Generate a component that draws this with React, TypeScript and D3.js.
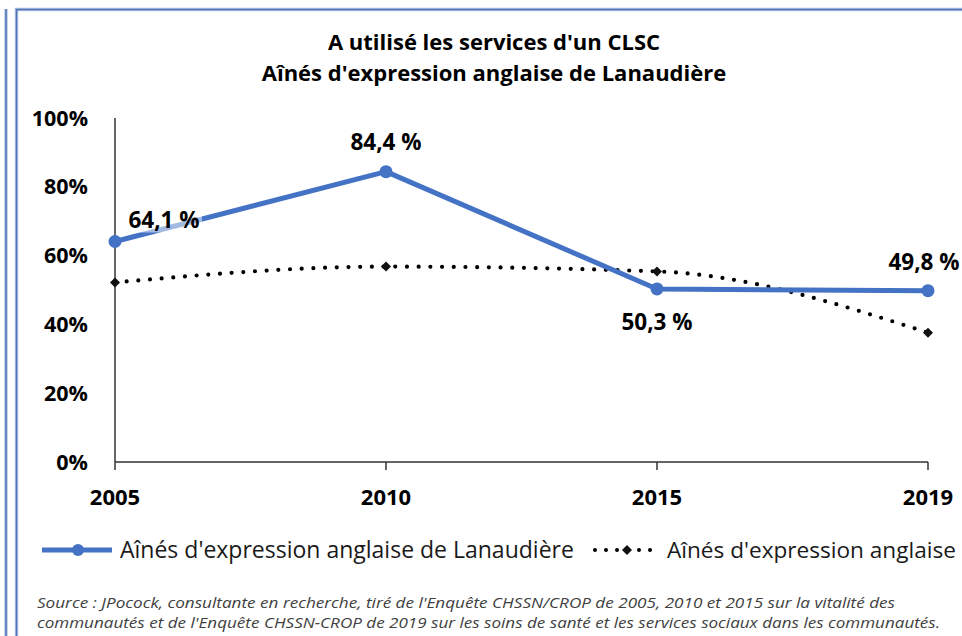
import React from "react";
import * as d3 from "d3";

const years = ["2005", "2010", "2015", "2019"];
const lanaudiere = [0.641, 0.844, 0.503, 0.498];
const anglophones = [0.522, 0.568, 0.554, 0.376];
const lanaudiereLabels = ["64,1 %", "84,4 %", "50,3 %", "49,8 %"];
const yTicks = [0, 0.2, 0.4, 0.6, 0.8, 1.0];
const yTickLabels = ["0%", "20%", "40%", "60%", "80%", "100%"];
const titleLines = ["A utilisé les services d'un CLSC", "Aînés d'expression anglaise de Lanaudière"];
const legendNames = ["Aînés d'expression anglaise de Lanaudière", "Aînés d'expression anglaise"];
const sourceLines = [
  "Source : JPocock, consultante en recherche, tiré de l'Enquête CHSSN/CROP de 2005, 2010 et 2015 sur la vitalité des",
  "communautés et de l'Enquête CHSSN-CROP de 2019 sur les soins de santé et les services sociaux dans les communautés.",
];

const W = 962;
const H = 636;
const BLUE = "#4472C4";
const FONT = "'Open Sans', 'Noto Sans', sans-serif";

// label offsets (dx, dy of text centre from point)
const labelOffsets: [number, number][] = [
  [49, -21],
  [0, -30],
  [0, 33],
  [-4, -29],
];
const sourceWidths = [858, 903];

export default function App() {
  const x = d3.scalePoint<string>().domain(years).range([115, 928]);
  const y = d3.scaleLinear().domain([0, 1]).range([462, 118]);

  const blueLine = d3
    .line<number>()
    .x((_, i) => x(years[i]) as number)
    .y((d) => y(d));
  const dotLine = d3
    .line<number>()
    .x((_, i) => x(years[i]) as number)
    .y((d) => y(d))
    .curve(d3.curveMonotoneX);

  const diamond = (cx: number, cy: number, r: number) =>
    `M${cx},${cy - r}L${cx + r},${cy}L${cx},${cy + r}L${cx - r},${cy}Z`;

  return (
    <svg
      width={W}
      height={H}
      style={{ position: "absolute", left: 0, top: 0, background: "#fff" }}
      fontFamily={FONT}
    >
      <rect x={0} y={0} width={W} height={H} fill="#fff" />
      {/* frame borders */}
      <g fill="none">
        <line x1={6} y1={9} x2={6} y2={H} stroke="#b4c6e7" strokeWidth={3.5} />
        <line x1={6} y1={9} x2={6} y2={H} stroke="#4f72b3" strokeWidth={1.5} />
        <path d={`M16.5,${H}V9.5H${W}`} stroke="#b4c6e7" strokeWidth={3.5} />
        <path d={`M16.5,${H}V9.5H${W}`} stroke="#4f72b3" strokeWidth={1.5} />
      </g>

      {/* title */}
      <g textAnchor="middle" fontWeight="bold" fontSize={22} fill="#000">
        {titleLines.map((t, i) => (
          <text key={i} x={494} y={50 + i * 31}>
            {t}
          </text>
        ))}
      </g>

      {/* y axis labels */}
      <g textAnchor="end" fontWeight="bold" fontSize={21.5} fill="#000">
        {yTicks.map((t, i) => (
          <text key={i} x={88} y={y(t)} dy="0.35em">
            {yTickLabels[i]}
          </text>
        ))}
      </g>

      {/* axes */}
      <line x1={115} y1={y(1)} x2={115} y2={y(0)} stroke="#333" strokeWidth={1.5} />
      <line x1={115} y1={y(0)} x2={928} y2={y(0)} stroke="#333" strokeWidth={1.5} />
      {years.map((yr) => (
        <line key={yr} x1={x(yr)} x2={x(yr)} y1={y(0)} y2={y(0) + 8} stroke="#333" strokeWidth={1.5} />
      ))}
      <g textAnchor="middle" fontWeight="bold" fontSize={22} fill="#000">
        {years.map((yr) => (
          <text key={yr} x={x(yr)} y={497} dy="0.35em">
            {yr}
          </text>
        ))}
      </g>

      {/* dotted series */}
      <path
        d={dotLine(anglophones) || ""}
        fill="none"
        stroke="#000"
        strokeWidth={4.2}
        strokeLinecap="round"
        strokeDasharray="0 11.7"
      />
      {anglophones.map((v, i) => (
        <path key={i} d={diamond(x(years[i]) as number, y(v), 5)} fill="#111" />
      ))}

      {/* blue series */}
      <path d={blueLine(lanaudiere) || ""} fill="none" stroke={BLUE} strokeWidth={5} strokeLinejoin="round" />
      {lanaudiere.map((v, i) => (
        <circle key={i} cx={x(years[i])} cy={y(v)} r={6.5} fill={BLUE} />
      ))}

      {/* data labels */}
      <g textAnchor="middle" fontWeight="bold" fontSize={22.5} fill="#000">
        {lanaudiere.map((v, i) => {
          const cx = (x(years[i]) as number) + labelOffsets[i][0];
          const cy = y(v) + labelOffsets[i][1];
          return (
            <g key={i}>
              {i === 0 && <rect x={cx - 38} y={cy - 12} width={76} height={24} fill="#fff" opacity={0.5} />}
              <text x={cx} y={cy} dy="0.35em">
                {lanaudiereLabels[i]}
              </text>
            </g>
          );
        })}
      </g>

      {/* legend */}
      <g>
        <line x1={42} x2={112} y1={550} y2={550} stroke={BLUE} strokeWidth={5} />
        <circle cx={78} cy={550} r={6} fill={BLUE} />
        <text x={120} y={550} dy="0.35em" fontSize={23} fill="#1a1a1a">
          {legendNames[0]}
        </text>
        <line
          x1={595}
          x2={660}
          y1={550}
          y2={550}
          stroke="#000"
          strokeWidth={4}
          strokeLinecap="round"
          strokeDasharray="0 11"
        />
        <path d={diamond(627, 550, 5)} fill="#111" />
        <text x={667} y={550} dy="0.35em" fontSize={22.6} fill="#1a1a1a">
          {legendNames[1]}
        </text>
      </g>

      {/* source */}
      <g fontStyle="italic" fontSize={14} fill="#404040">
        {sourceLines.map((s, i) => (
          <text key={i} x={37} y={608 + i * 20} textLength={sourceWidths[i]} lengthAdjust="spacingAndGlyphs">
            {s}
          </text>
        ))}
      </g>
    </svg>
  );
}
